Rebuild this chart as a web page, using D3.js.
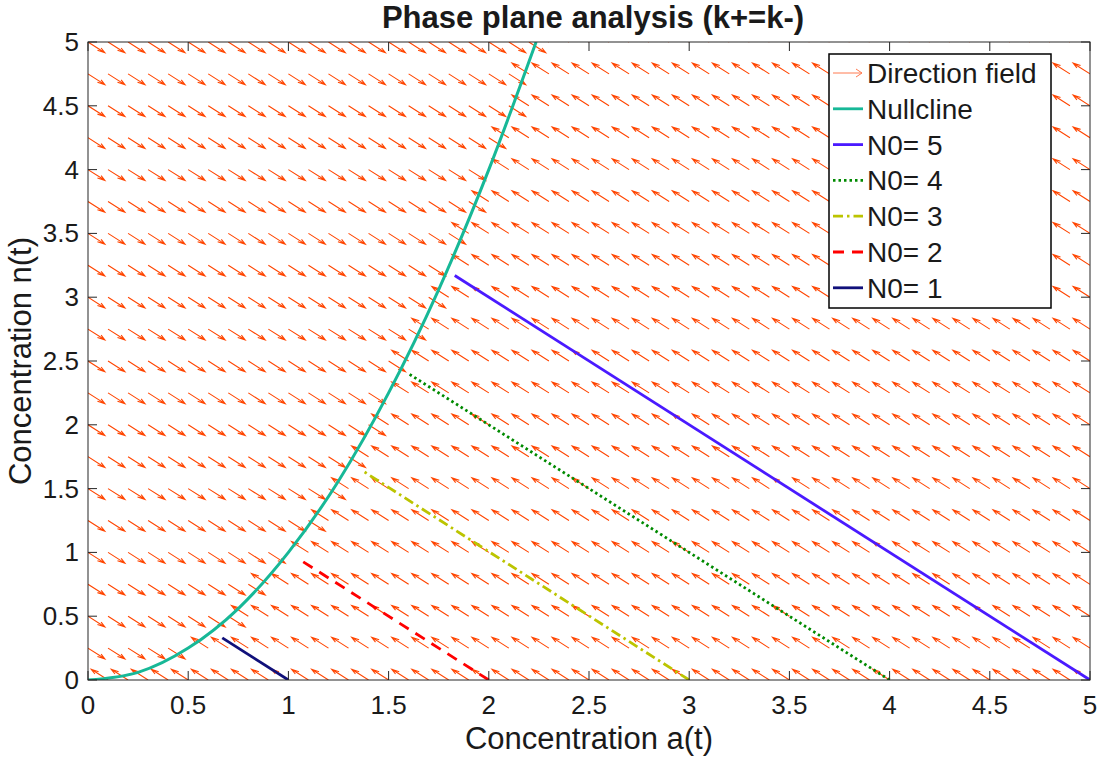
<!DOCTYPE html>
<html>
<head>
<meta charset="utf-8">
<script src="https://cdn.jsdelivr.net/npm/d3@7"></script>
<style>
  body { margin: 0; background: #fff; }
  text { font-family: "Liberation Sans", Arial, Helvetica, sans-serif; fill: #1a1a1a; }
</style>
</head>
<body>
<svg id="chart" width="1102" height="765"></svg>
<script>
// direction field grid: rows (n values) and where the arrows flip direction on each row
const fieldRows = [0, 0.25, 0.5, 0.75, 1, 1.25, 1.5, 1.75, 2, 2.25, 2.5, 2.75, 3, 3.25, 3.5, 3.75, 4, 4.25, 4.5, 4.75, 5];
const flipA = [0, 0.5, 0.71, 0.87, 1, 1.12, 1.22, 1.32, 1.41, 1.5, 1.58, 1.66, 1.73, 1.8, 1.87, 1.94, 2, 2.06, 2.12, 2.18, 2.24];
const fieldCols = d3.range(0, 51).map((i) => i / 10);
const arrowLen = 0.084; // per component, data units

// nullcline
const nullA = [0, 0.25, 0.5, 0.75, 1, 1.25, 1.5, 1.75, 2, 2.236];
const nullN = [0, 0.06, 0.25, 0.56, 1, 1.56, 2.25, 3.06, 4, 5];

// trajectories: start and end points
const trajNames = ["N0= 5", "N0= 4", "N0= 3", "N0= 2", "N0= 1"];
const trajA = [[5, 1.83], [4, 1.6], [3, 1.37], [2, 1.07], [1, 0.67]];
const trajN = [[0, 3.17], [0, 2.4], [0, 1.64], [0, 0.93], [0, 0.33]];
const trajColors = ["#4a1aff", "#008a00", "#bcc400", "#ff0000", "#10107a"];
const trajDash = [null, "2.5,3", "10,4,2.5,4", "11,8", null];

const xTicks = [0, 0.5, 1, 1.5, 2, 2.5, 3, 3.5, 4, 4.5, 5];
const yTicks = [0, 0.5, 1, 1.5, 2, 2.5, 3, 3.5, 4, 4.5, 5];

const margin = { top: 42, right: 12, bottom: 85, left: 88 };
const W = 1102, H = 765;
const width = W - margin.left - margin.right;
const height = H - margin.top - margin.bottom;
const arrowColor = "#ff4500";

const svg = d3.select("#chart");
const g = svg.append("g").attr("transform", `translate(${margin.left},${margin.top})`);

const x = d3.scaleLinear().domain([0, 5]).range([0, width]);
const y = d3.scaleLinear().domain([0, 5]).range([height, 0]);

svg.append("defs").append("clipPath").attr("id", "plotclip")
  .append("rect").attr("width", width).attr("height", height);

const plot = g.append("g").attr("clip-path", "url(#plotclip)");

// arrow path in data units, MATLAB-style head
function arrowPath(a, n, u, v) {
  const alpha = 0.33, beta = 0.33;
  const tx = a + u, ty = n + v;
  const p1 = [tx - alpha * (u + beta * v), ty - alpha * (v - beta * u)];
  const p2 = [tx - alpha * (u - beta * v), ty - alpha * (v + beta * u)];
  return `M${x(a)},${y(n)}L${x(tx)},${y(ty)}` +
    `M${x(p1[0])},${y(p1[1])}L${x(tx)},${y(ty)}L${x(p2[0])},${y(p2[1])}`;
}

const arrows = [];
fieldRows.forEach((n, r) => {
  fieldCols.forEach((a) => {
    const d = a - flipA[r];
    if (Math.abs(d) < 1e-6) return;
    const s = d < 0 ? 1 : -1;
    arrows.push({ a, n, u: s * arrowLen, v: -s * arrowLen });
  });
});

plot.append("g")
  .selectAll("path")
  .data(arrows)
  .join("path")
  .attr("d", (d) => arrowPath(d.a, d.n, d.u, d.v))
  .attr("fill", "none")
  .attr("stroke", arrowColor)
  .attr("stroke-width", 1.1);

// nullcline
plot.append("path")
  .datum(nullA.map((a, i) => [a, nullN[i]]))
  .attr("fill", "none")
  .attr("stroke", "#17b897")
  .attr("stroke-width", 3)
  .attr("d", d3.line().x((d) => x(d[0])).y((d) => y(d[1])).curve(d3.curveMonotoneX));

// trajectories
trajNames.forEach((name, i) => {
  plot.append("path")
    .datum(trajA[i].map((a, j) => [a, trajN[i][j]]))
    .attr("fill", "none")
    .attr("stroke", trajColors[i])
    .attr("stroke-width", 2.8)
    .attr("stroke-dasharray", trajDash[i])
    .attr("d", d3.line().x((d) => x(d[0])).y((d) => y(d[1])));
});

// axes box and inward ticks
const axisColor = "#262626";
const tickLen = 9;
g.append("rect")
  .attr("width", width).attr("height", height)
  .attr("fill", "none").attr("stroke", axisColor).attr("stroke-width", 1);

const ticks = g.append("g").attr("stroke", axisColor).attr("stroke-width", 1);
xTicks.forEach((t) => {
  ticks.append("line").attr("x1", x(t)).attr("x2", x(t)).attr("y1", height).attr("y2", height - tickLen);
  ticks.append("line").attr("x1", x(t)).attr("x2", x(t)).attr("y1", 0).attr("y2", tickLen);
});
yTicks.forEach((t) => {
  ticks.append("line").attr("x1", 0).attr("x2", tickLen).attr("y1", y(t)).attr("y2", y(t));
  ticks.append("line").attr("x1", width).attr("x2", width - tickLen).attr("y1", y(t)).attr("y2", y(t));
});

g.append("g").selectAll("text").data(xTicks).join("text")
  .attr("x", (d) => x(d)).attr("y", height + 34)
  .attr("text-anchor", "middle").attr("font-size", 26)
  .text((d) => d);

g.append("g").selectAll("text").data(yTicks).join("text")
  .attr("x", -9).attr("y", (d) => y(d) + 9)
  .attr("text-anchor", "end").attr("font-size", 26)
  .text((d) => d);

// labels and title
svg.append("text")
  .attr("x", margin.left + width / 2).attr("y", 749)
  .attr("text-anchor", "middle").attr("font-size", 31)
  .text("Concentration a(t)");

svg.append("text")
  .attr("transform", `translate(31,${margin.top + height / 2}) rotate(-90)`)
  .attr("text-anchor", "middle").attr("font-size", 31)
  .text("Concentration n(t)");

svg.append("text")
  .attr("x", margin.left + width / 2 + 4).attr("y", 28)
  .attr("text-anchor", "middle").attr("font-size", 31).attr("font-weight", "bold")
  .text("Phase plane analysis (k+=k-)");

// legend
const legend = svg.append("g").attr("transform", "translate(829,54)");
legend.append("rect")
  .attr("width", 222).attr("height", 254)
  .attr("fill", "#fff").attr("stroke", "#000").attr("stroke-width", 1.5);

const legItems = [
  { label: "Direction field", color: "#ff7a50", dash: null, arrow: true },
  { label: "Nullcline", color: "#17b897", dash: null },
].concat(trajNames.map((name, i) => ({ label: name, color: trajColors[i], dash: trajDash[i] })));

legItems.forEach((d, i) => {
  const cy = 19 + i * 35.8;
  const row = legend.append("g").attr("transform", `translate(0,${cy})`);
  if (d.arrow) {
    row.append("path")
      .attr("d", "M4,0L33,0M27,-4L33,0L27,4")
      .attr("fill", "none").attr("stroke", d.color).attr("stroke-width", 1);
  } else {
    row.append("line")
      .attr("x1", 4).attr("x2", 34).attr("y1", 0).attr("y2", 0)
      .attr("stroke", d.color).attr("stroke-width", 2.8)
      .attr("stroke-dasharray", d.dash);
  }
  row.append("text")
    .attr("x", 38).attr("y", 10)
    .attr("font-size", 28)
    .text(d.label);
});
</script>
</body>
</html>
